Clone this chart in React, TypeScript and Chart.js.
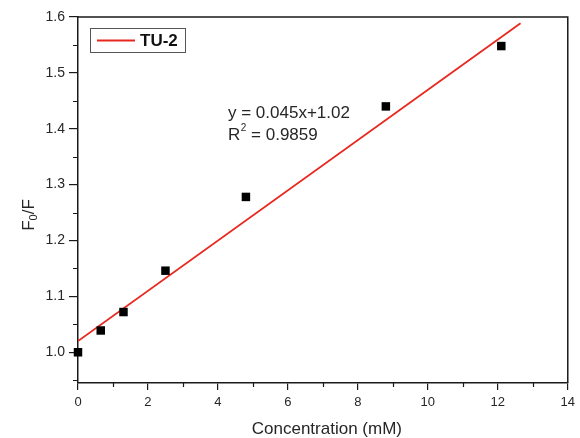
import React, { useEffect, useRef } from "react";
import { Chart, registerables } from "chart.js";

Chart.register(...registerables);

const seriesLabel = "TU-2";
const concentration = [0, 0.65, 1.3, 2.5, 4.8, 8.8, 12.1];
const f0OverF = [1.0, 1.039, 1.072, 1.146, 1.278, 1.44, 1.548];
const fitX = [0, 12.65];
const fitY = [1.02, 1.589];
const xMajorTicks = [0, 2, 4, 6, 8, 10, 12, 14];
const xMinorTicks = [1, 3, 5, 7, 9, 11, 13];
const yMajorTicks = [1.0, 1.1, 1.2, 1.3, 1.4, 1.5, 1.6];
const yMinorTicks = [0.95, 1.05, 1.15, 1.25, 1.35, 1.45, 1.55];
const equationLine = "y = 0.045x+1.02";
const r2Value = "0.9859";
const xTitle = "Concentration (mM)";

const FONT = "'Liberation Sans', Arial, sans-serif";
const AXIS = "#1a1a1a";
const TEXT = "#262626";
const RED = "#e8281e";

const decorPlugin = {
  id: "decor",
  afterDraw(chart: any) {
    const ctx = chart.ctx;
    const { left, right, top, bottom } = chart.chartArea;
    const xs = chart.scales.x;
    const ys = chart.scales.y;
    ctx.save();
    // frame top/right
    ctx.strokeStyle = AXIS;
    ctx.lineWidth = 1.5;
    ctx.beginPath();
    ctx.moveTo(left, top);
    ctx.lineTo(right, top);
    ctx.lineTo(right, bottom);
    ctx.stroke();
    // minor ticks
    ctx.lineWidth = 1.2;
    ctx.beginPath();
    xMinorTicks.forEach((v) => {
      const px = Math.round(xs.getPixelForValue(v)) + 0.5;
      ctx.moveTo(px, bottom);
      ctx.lineTo(px, bottom + 4);
    });
    yMinorTicks.forEach((v) => {
      const py = Math.round(ys.getPixelForValue(v)) + 0.5;
      ctx.moveTo(left, py);
      ctx.lineTo(left - 5, py);
    });
    ctx.stroke();

    // legend
    const lx = 90, ly = 28, lw = 95, lh = 24;
    ctx.strokeStyle = "#555";
    ctx.lineWidth = 1;
    ctx.fillStyle = "#fff";
    ctx.fillRect(lx, ly, lw, lh);
    ctx.strokeRect(lx + 0.5, ly + 0.5, lw, lh);
    ctx.strokeStyle = RED;
    ctx.lineWidth = 1.8;
    ctx.beginPath();
    ctx.moveTo(97, ly + lh / 2 + 0.5);
    ctx.lineTo(135, ly + lh / 2 + 0.5);
    ctx.stroke();
    ctx.fillStyle = "#111";
    ctx.font = `bold 17px ${FONT}`;
    ctx.textBaseline = "middle";
    ctx.textAlign = "left";
    ctx.fillText(chart.data.datasets[1].label, 140, ly + lh / 2 + 1);

    // equation
    ctx.fillStyle = TEXT;
    ctx.font = `17px ${FONT}`;
    ctx.fillText(equationLine, 228, 113);
    ctx.fillText("R", 228, 135);
    const rw = ctx.measureText("R").width;
    ctx.font = `10px ${FONT}`;
    ctx.fillText("2", 228 + rw + 0.5, 128);
    const sw = ctx.measureText("2").width;
    ctx.font = `17px ${FONT}`;
    ctx.fillText(" = " + r2Value, 228 + rw + sw + 0.5, 135);

    // x title
    ctx.textAlign = "center";
    ctx.font = `17px ${FONT}`;
    ctx.fillText(xTitle, (left + right) / 2 + 4, 429);

    // y title F0/F rotated
    ctx.translate(29, 215);
    ctx.rotate(-Math.PI / 2);
    ctx.textAlign = "left";
    ctx.font = `17px ${FONT}`;
    const fw = ctx.measureText("F").width;
    ctx.font = `11px ${FONT}`;
    const zw = ctx.measureText("0").width;
    ctx.font = `17px ${FONT}`;
    const restW = ctx.measureText("/F").width;
    const total = fw + zw + restW;
    let cx = -total / 2;
    ctx.fillText("F", cx, 0);
    cx += fw;
    ctx.font = `11px ${FONT}`;
    ctx.fillText("0", cx, 5);
    cx += zw;
    ctx.font = `17px ${FONT}`;
    ctx.fillText("/F", cx, 0);
    ctx.restore();
  },
};

export default function App() {
  const ref = useRef<HTMLCanvasElement>(null);
  useEffect(() => {
    const chart = new Chart(ref.current!, {
      type: "scatter",
      data: {
        datasets: [
          {
            label: "data",
            data: concentration.map((x, i) => ({ x, y: f0OverF[i] })),
            pointStyle: "rect",
            pointRadius: 6,
            backgroundColor: "#000",
            borderColor: "#000",
            borderWidth: 0,
            clip: false,
            order: 1,
          },
          {
            label: seriesLabel,
            type: "line",
            data: fitX.map((x, i) => ({ x, y: fitY[i] })),
            borderColor: RED,
            borderWidth: 1.8,
            pointRadius: 0,
            showLine: true,
            order: 2,
          } as any,
        ],
      },
      options: {
        responsive: false,
        animation: false,
        layout: { padding: { top: 17, right: 11, left: 0, bottom: 0 } },
        plugins: { legend: { display: false }, tooltip: { enabled: false } },
        scales: {
          x: {
            type: "linear",
            min: 0,
            max: 14,
            afterFit: (s: any) => {
              s.height = 55;
            },
            afterBuildTicks: (s: any) => {
              s.ticks = xMajorTicks.map((v) => ({ value: v }));
            },
            grid: {
              display: true,
              drawOnChartArea: false,
              drawTicks: true,
              tickLength: 7,
              color: AXIS,
              lineWidth: 1.2,
            },
            border: { display: true, color: AXIS, width: 1.5 },
            ticks: {
              color: TEXT,
              font: { family: FONT, size: 13 },
              padding: 5,
              maxRotation: 0,
              callback: (v: any) => String(v),
            },
          },
          y: {
            type: "linear",
            min: 0.945,
            max: 1.6,
            afterFit: (s: any) => {
              s.width = 78;
            },
            afterBuildTicks: (s: any) => {
              s.ticks = yMajorTicks.map((v) => ({ value: v }));
            },
            grid: {
              display: true,
              drawOnChartArea: false,
              drawTicks: true,
              tickLength: 9,
              color: AXIS,
              lineWidth: 1.2,
            },
            border: { display: true, color: AXIS, width: 1.5 },
            ticks: {
              color: TEXT,
              font: { family: FONT, size: 14 },
              padding: 4,
              callback: (v: any) => Number(v).toFixed(1),
            },
          },
        },
      },
      plugins: [decorPlugin],
    });
    return () => chart.destroy();
  }, []);
  return (
    <div style={{ position: "fixed", left: 0, top: 0, width: 580, height: 438, background: "#fff" }}>
      <canvas ref={ref} width={580} height={438} style={{ display: "block" }} />
    </div>
  );
}
